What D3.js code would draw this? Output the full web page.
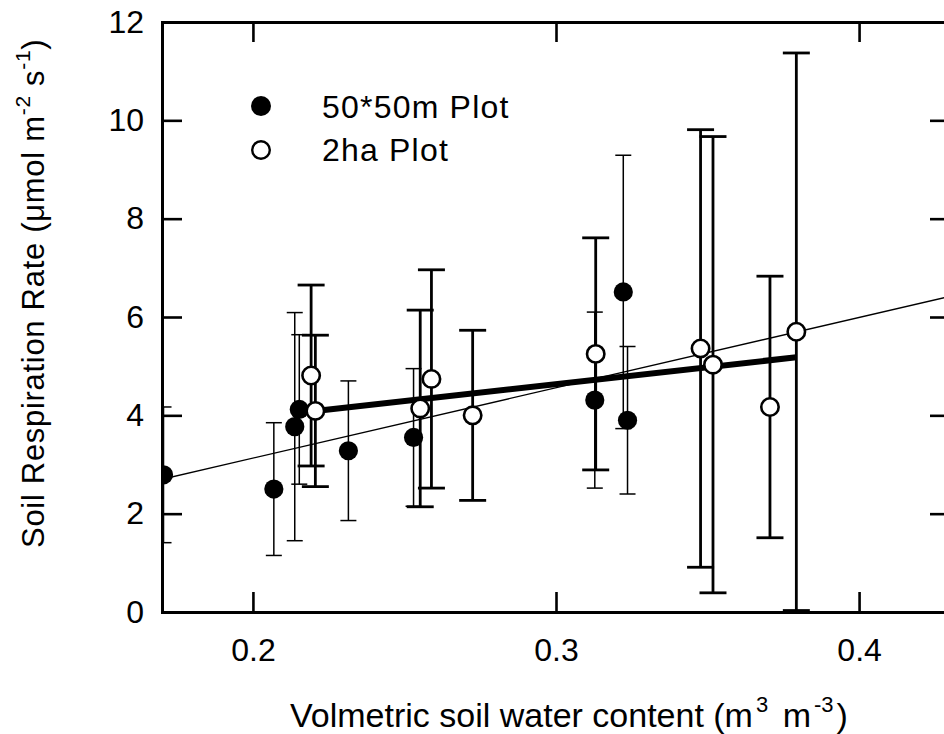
<!DOCTYPE html>
<html>
<head>
<meta charset="utf-8">
<script src="https://cdn.jsdelivr.net/npm/d3@7"></script>
<style>
  body { margin: 0; background: #fff; }
  svg { display: block; }
  text { font-family: "Liberation Sans", Arial, Helvetica, sans-serif; fill: #000; }
</style>
</head>
<body>
<svg id="chart" width="944" height="734"></svg>
<script>
// 50*50m plot: soil water content, respiration mean, error
const smallX   = [0.1705, 0.2069, 0.2138, 0.2153, 0.2315, 0.2530, 0.3128, 0.3222, 0.3236];
const smallY   = [2.79, 2.50, 3.77, 4.12, 3.28, 3.55, 4.31, 6.51, 3.90];
const smallErr = [1.38, 1.35, 2.32, 1.52, 1.42, 1.40, 1.79, 2.78, 1.50];

// 2ha plot
const haX   = [0.2192, 0.2206, 0.2552, 0.2589, 0.2725, 0.3131, 0.3477, 0.3518, 0.3706, 0.3793];
const haY   = [4.81, 4.09, 4.14, 4.74, 4.00, 5.25, 5.36, 5.03, 4.17, 5.70];
const haErr = [1.84, 1.54, 2.00, 2.22, 1.73, 2.36, 4.45, 4.64, 2.66, 5.67];

// regression lines (end points)
const fitSmallX = [0.17, 0.43];
const fitSmallY = [2.70, 6.42];
const fitHaX = [0.2206, 0.3793];
const fitHaY = [4.09, 5.18];

const xTicks = [0.2, 0.3, 0.4];
const yTicks = [0, 2, 4, 6, 8, 10, 12];

const legendLabels = ["50*50m Plot", "2ha Plot"];

const svg = d3.select("#chart");
const plotL = 162, plotR = 950, plotT = 22, plotB = 612;

const x = d3.scaleLinear().domain([0.17, 0.43]).range([plotL, plotR]);
const y = d3.scaleLinear().domain([0, 12]).range([plotB, plotT]);

svg.append("defs").append("clipPath").attr("id", "plotclip")
  .append("rect").attr("x", plotL).attr("y", plotT)
  .attr("width", plotR - plotL).attr("height", plotB - plotT);

const plot = svg.append("g").attr("clip-path", "url(#plotclip)");

// regression lines
const line = d3.line().x(d => x(d[0])).y(d => y(d[1]));
plot.append("path")
  .attr("d", line(fitSmallX.map((v, i) => [v, fitSmallY[i]])))
  .attr("fill", "none").attr("stroke", "#000").attr("stroke-width", 1.3);
plot.append("path")
  .attr("d", line(fitHaX.map((v, i) => [v, fitHaY[i]])))
  .attr("fill", "none").attr("stroke", "#000").attr("stroke-width", 6);

// error bars
function errorBars(xs, ys, es, width, capHalf) {
  const g = plot.append("g").attr("stroke", "#000").attr("stroke-width", width);
  xs.forEach((xv, i) => {
    const lo = y(ys[i] - es[i]), hi = y(ys[i] + es[i]), cx = x(xv);
    g.append("line").attr("x1", cx).attr("x2", cx).attr("y1", lo).attr("y2", hi);
    g.append("line").attr("x1", cx - capHalf).attr("x2", cx + capHalf).attr("y1", lo).attr("y2", lo);
    g.append("line").attr("x1", cx - capHalf).attr("x2", cx + capHalf).attr("y1", hi).attr("y2", hi);
  });
}
errorBars(smallX, smallY, smallErr, 1.5, 8);
errorBars(haX, haY, haErr, 2.8, 13.5);

// markers
plot.append("g").selectAll("circle").data(smallX).join("circle")
  .attr("cx", d => x(d)).attr("cy", (d, i) => y(smallY[i]))
  .attr("r", 9.6).attr("fill", "#000");
plot.append("g").selectAll("circle").data(haX).join("circle")
  .attr("cx", d => x(d)).attr("cy", (d, i) => y(haY[i]))
  .attr("r", 8.7).attr("fill", "#fff").attr("stroke", "#000").attr("stroke-width", 2.6);

// axes with inward ticks
function styleAxis(g) {
  g.select(".domain").attr("stroke-width", 3).attr("stroke-linecap", "square");
  g.selectAll(".tick line").attr("stroke-width", 2.6);
  g.selectAll(".tick text").attr("font-size", 32)
    .attr("font-family", '"Liberation Sans", Arial, sans-serif').attr("fill", "#000");
}

svg.append("g").attr("transform", `translate(0,${plotB})`)
  .call(d3.axisBottom(x).tickValues(xTicks).tickFormat(d3.format(".1f"))
    .tickSize(-20).tickSizeOuter(0).tickPadding(26))
  .call(styleAxis);
svg.append("g").attr("transform", `translate(0,${plotT})`)
  .call(d3.axisTop(x).tickValues(xTicks).tickFormat("")
    .tickSize(-20).tickSizeOuter(0))
  .call(styleAxis);
svg.append("g").attr("transform", `translate(${plotL},0)`)
  .call(d3.axisLeft(y).tickValues(yTicks).tickFormat(d3.format("d"))
    .tickSize(-20).tickSizeOuter(0).tickPadding(18))
  .call(styleAxis);
svg.append("g").attr("transform", `translate(${plotR},0)`)
  .call(d3.axisRight(y).tickValues(yTicks).tickFormat("")
    .tickSize(-20).tickSizeOuter(0))
  .call(styleAxis);

// legend
const legend = svg.append("g");
legend.append("circle").attr("cx", 261).attr("cy", 106).attr("r", 10).attr("fill", "#000");
legend.append("circle").attr("cx", 261).attr("cy", 150).attr("r", 8.8)
  .attr("fill", "#fff").attr("stroke", "#000").attr("stroke-width", 2.4);
legend.selectAll("text.lab").data(legendLabels).join("text")
  .attr("class", "lab")
  .attr("x", 322).attr("y", (d, i) => 117.7 + i * 43.5)
  .attr("font-size", 32).attr("letter-spacing", 1.2)
  .text(d => d);

// axis titles
const xt = svg.append("text").attr("x", 290).attr("y", 727).attr("font-size", 34);
xt.append("tspan").text("Volmetric soil water content (m");
xt.append("tspan").attr("font-size", 22).attr("dx", 3).attr("dy", -15).text("3");
xt.append("tspan").attr("dx", 5).attr("dy", 15).text(" m");
xt.append("tspan").attr("font-size", 22).attr("dx", 3).attr("dy", -15).text("-3");
xt.append("tspan").attr("dx", 3).attr("dy", 15).text(")");

const yt = svg.append("text")
  .attr("transform", "translate(43.5,548) rotate(-90)")
  .attr("font-size", 31).attr("letter-spacing", 0.7);
yt.append("tspan").text("Soil Respiration Rate (\u03bcmol m");
yt.append("tspan").attr("font-size", 21).attr("dy", -14).text("-2");
yt.append("tspan").attr("dy", 14).text(" s");
yt.append("tspan").attr("font-size", 21).attr("dy", -14).text("-1");
yt.append("tspan").attr("dy", 14).text(")");
</script>
</body>
</html>
